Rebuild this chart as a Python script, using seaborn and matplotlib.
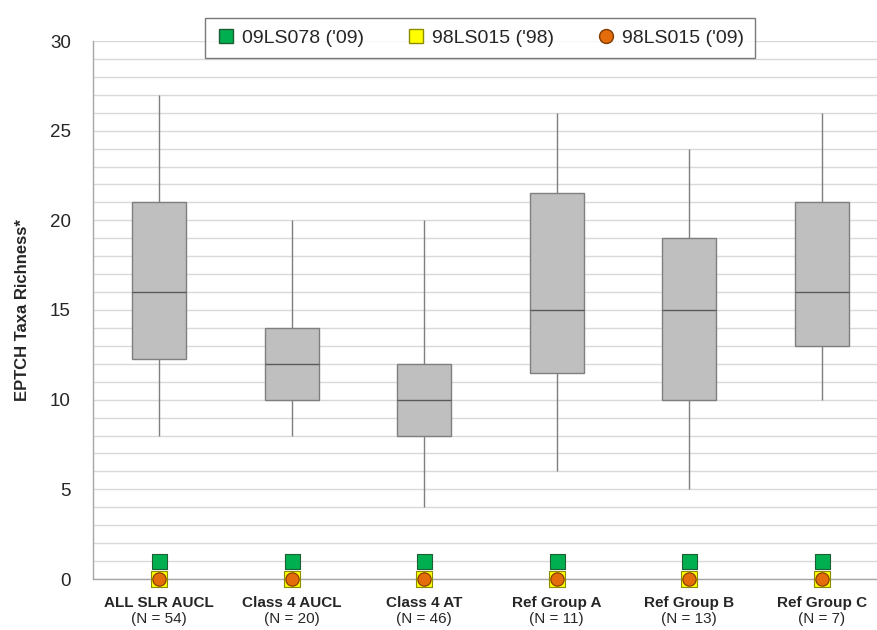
import numpy as np
import pandas as pd
import seaborn as sns
import matplotlib.pyplot as plt
from matplotlib.lines import Line2D

# Group names and sample sizes
groups = ["ALL SLR AUCL", "Class 4 AUCL", "Class 4 AT", "Ref Group A", "Ref Group B", "Ref Group C"]
n_sites = [54, 20, 46, 11, 13, 7]

# Five-number summaries: min, Q1, median, Q3, max
box_min = [8, 8, 4, 6, 5, 10]
box_q1 = [12.25, 10, 8, 11.5, 10, 13]
box_med = [16, 12, 10, 15, 15, 16]
box_q3 = [21, 14, 12, 21.5, 19, 21]
box_max = [27, 20, 20, 26, 24, 26]

# Site values
site_09ls078_09 = [1, 1, 1, 1, 1, 1]
site_98ls015_98 = [0, 0, 0, 0, 0, 0]
site_98ls015_09 = [0, 0, 0, 0, 0, 0]

# long table: five values per group give exactly those quartiles
rows = []
for g, a, b, c, d, e in zip(groups, box_min, box_q1, box_med, box_q3, box_max):
    for v in (a, b, c, d, e):
        rows.append({"Group": g, "Value": v})
df = pd.DataFrame(rows)

sns.set_style("white")
plt.rcParams["font.family"] = ["Liberation Sans", "DejaVu Sans"]

fig = plt.figure(figsize=(8.77, 6.3), dpi=100)
ax = fig.add_axes([93 / 877, 51 / 630, 795 / 877, 538 / 630])

grid_c = "#D9D9D9"
axis_c = "#A6A6A6"

sns.boxplot(
    data=df, x="Group", y="Value", order=groups,
    whis=(0, 100), width=0.41, color="#BFBFBF", saturation=1,
    linecolor="#7F7F7F", linewidth=1, showcaps=False, ax=ax,
    medianprops={"color": "#595959", "linewidth": 1},
)

# site markers
series = [
    (site_98ls015_98, "s", "#FFFF00", "#8C8C00", 11.5, 3),
    (site_98ls015_09, "o", "#E46C0A", "#7F3A00", 9.6, 4),
    (site_09ls078_09, "s", "#00B050", "#1E5E34", 10.8, 4),
]
for vals, mk, fc, ec, sz, z in series:
    n_before = len(ax.collections)
    sns.stripplot(x=groups, y=vals, order=groups, jitter=False, marker=mk,
                  color=fc, edgecolor=ec, linewidth=0.8, size=sz, ax=ax)
    for coll in ax.collections[n_before:]:
        coll.set_clip_on(False)
        coll.set_zorder(z)

ax.set_xlim(-0.5, len(groups) - 0.5)
ax.set_ylim(0, 30)
ax.set_yticks(np.arange(0, 31, 5))
ax.set_yticks(np.arange(0, 31, 1), minor=True)
ax.yaxis.grid(True, which="both", color=grid_c, linewidth=1)
ax.set_axisbelow(True)
ax.tick_params(axis="y", which="major", length=7, width=1, color=axis_c,
               labelsize=13.5, pad=9, labelcolor="#262626")
ax.tick_params(axis="y", which="minor", length=0)

ax.set_xticks(np.arange(-0.5, len(groups), 1), minor=True)
ax.tick_params(axis="x", which="minor", length=6, width=1, color=axis_c)
ax.tick_params(axis="x", which="major", length=0, pad=12, labelsize=11)
ax.set_xticks(range(len(groups)))
ax.set_xticklabels(groups, fontweight="bold")
ax.set_xlabel("")
for i, n in enumerate(n_sites):
    ax.annotate(f"(N = {n})", xy=(i, 0), xycoords=("data", "axes fraction"),
                xytext=(0, -24), textcoords="offset points",
                ha="center", va="top", fontsize=11)

ax.set_ylabel("EPTCH Taxa Richness*", fontsize=12, fontweight="bold", labelpad=14)

for s in ["top", "right"]:
    ax.spines[s].set_visible(False)
for s in ["left", "bottom"]:
    ax.spines[s].set_color(axis_c)
    ax.spines[s].set_linewidth(1)

handles = [
    Line2D([], [], marker="s", linestyle="", markerfacecolor="#00B050",
           markeredgecolor="#1E5E34", markersize=10, label="09LS078 ('09)"),
    Line2D([], [], marker="s", linestyle="", markerfacecolor="#FFFF00",
           markeredgecolor="#8C8C00", markersize=10, label="98LS015 ('98)"),
    Line2D([], [], marker="o", linestyle="", markerfacecolor="#E46C0A",
           markeredgecolor="#7F3A00", markersize=10, label="98LS015 ('09)"),
]
leg = fig.legend(handles=handles, ncol=3, loc="center", bbox_to_anchor=(480 / 877, 1 - 38 / 630),
                 fontsize=14, frameon=True, fancybox=False, edgecolor="#595959",
                 handletextpad=0.3, columnspacing=2.2, borderpad=0.6, handlelength=1,
                 borderaxespad=0)
leg.get_frame().set_linewidth(1)
leg.set_zorder(10)

fig.savefig("out.png", dpi=100)
